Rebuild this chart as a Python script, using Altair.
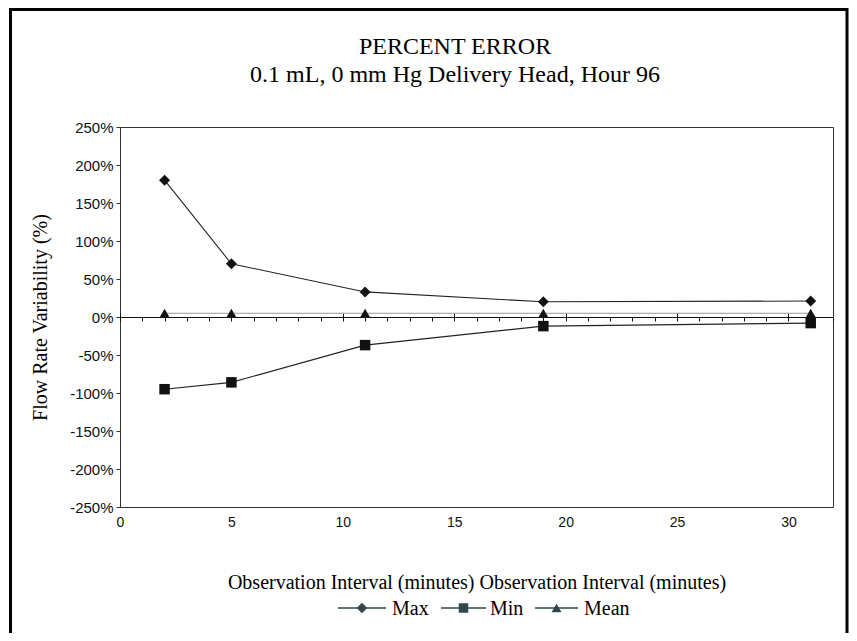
import altair as alt
import pandas as pd

# ---- data ----
series_names = ["Max", "Min", "Mean"]
x_minutes = [2, 5, 11, 19, 31]
max_vals = [180, 70, 33, 20, 21]
min_vals = [-95, -86, -37, -12, -8]
mean_vals = [5, 5, 5, 5, 5]
x_tick_labels = [0, 5, 10, 15, 20, 25, 30]
y_tick_labels = [-250, -200, -150, -100, -50, 0, 50, 100, 150, 200, 250]
minor_ticks = list(range(0, 33))
title_lines = ["PERCENT ERROR", "0.1 mL, 0 mm Hg Delivery Head, Hour 96"]
marker_shapes = ["diamond", "square", "triangle-up"]

rows = []
for name, vals in zip(series_names, [max_vals, min_vals, mean_vals]):
    for xv, yv in zip(x_minutes, vals):
        rows.append({"series": name, "x": xv, "value": yv})
df = pd.DataFrame(rows)

W, H = 713, 380
ZERO_OFF = H / 2

x_scale = alt.Scale(domain=[0, 32], nice=False, zero=False)
y_scale = alt.Scale(domain=[-250, 250], nice=False)

serif = "Liberation Serif"
sans = "Liberation Sans"

x_main_axis = alt.Axis(
    title="Observation Interval (minutes) Observation Interval (minutes)",
    values=x_tick_labels, ticks=False, domain=False, grid=False,
    labelFont=sans, labelFontSize=14, labelColor="#111", labelPadding=8,
    labelFlush=False,
    titleFont=serif, titleFontSize=20, titleFontWeight="normal", titleColor="#000",
    titleY=81, titleBaseline="alphabetic",
)
y_axis = alt.Axis(
    title="Flow Rate Variability (%)",
    values=y_tick_labels, labelExpr="datum.value + '%'",
    grid=False, domain=False, ticks=True, tickSize=4, tickColor="#333",
    labelFont=sans, labelFontSize=15, labelColor="#111", labelPadding=3,
    titleFont=serif, titleFontSize=20, titleFontWeight="normal", titleColor="#000",
    titleX=-80, titleY=H / 2, titleAngle=270, titleAlign="center", titleBaseline="middle",
)


def y_enc():
    return alt.Y("value:Q", scale=y_scale, axis=y_axis)


lines = alt.Chart(df).mark_line(clip=False).encode(
    x=alt.X("x:Q", scale=x_scale, axis=x_main_axis),
    y=y_enc(),
    color=alt.Color("series:N", scale=alt.Scale(domain=series_names, range=["#222222", "#222222", "#9a9a9a"]), legend=None),
    strokeWidth=alt.StrokeWidth("series:N", scale=alt.Scale(domain=series_names, range=[1.1, 1.1, 2.5]), legend=None),
)

points = alt.Chart(df).mark_point(filled=True, opacity=1).encode(
    x=alt.X("x:Q", scale=x_scale, axis=None),
    y=y_enc(),
    shape=alt.Shape("series:N", scale=alt.Scale(domain=series_names, range=marker_shapes), legend=None),
    size=alt.Size("series:N", scale=alt.Scale(domain=series_names, range=[120, 100, 110]), legend=None),
    color=alt.value("#111111"),
)

# zero line with minor ticks (below) and major ticks (above)
minor_axis = alt.Chart(df).mark_point(opacity=0).encode(
    x=alt.X("x:Q", scale=x_scale, axis=alt.Axis(orient="bottom", offset=-ZERO_OFF, values=minor_ticks,
                                                 labels=False, title=None, tickSize=4, tickColor="#111",
                                                 domain=True, domainColor="#111", domainWidth=1.2, grid=False)),
    y=y_enc(),
)
major_axis = alt.Chart(df).mark_point(opacity=0).encode(
    x=alt.X("x:Q", scale=x_scale, axis=alt.Axis(orient="top", offset=-ZERO_OFF, values=x_tick_labels,
                                                 labels=False, title=None, tickSize=4, tickColor="#111",
                                                 domain=False, grid=False)),
    y=y_enc(),
)

# ---- legend (line + marker + label per series), laid out below the axis title ----
LEG = "#2f474c"
names_df = pd.DataFrame({"series": series_names})
LEG_Y = 481
legend_slots = [(218, 266, 272), (321, 366, 370), (415, 458, 464)]  # line start, line end, label x
legend_sizes = [110, 90, 100]
legend_layers = []
for name, shp, (x0, x1, tx), sz in zip(series_names, marker_shapes, legend_slots, legend_sizes):
    src = alt.Chart(names_df).transform_filter(alt.datum.series == name)
    legend_layers.append(src.mark_rule(color=LEG, strokeWidth=1.3).encode(
        x=alt.value(x0), x2=alt.value(x1), y=alt.value(LEG_Y)))
    legend_layers.append(src.mark_point(shape=shp, filled=True, color=LEG, opacity=1, size=sz).encode(
        x=alt.value((x0 + x1) / 2), y=alt.value(LEG_Y)))
    legend_layers.append(src.mark_text(font=serif, fontSize=20, color="#000", align="left",
                                       baseline="middle").encode(
        text="series:N", x=alt.value(tx), y=alt.value(LEG_Y + 1)))

title_df = pd.DataFrame({"line": title_lines, "row": [0, 1]})
title_top = alt.Chart(title_df).transform_filter("datum.row == 0").mark_text(
    font=serif, fontSize=24, color="#000", align="center", baseline="alphabetic"
).encode(text="line:N", x=alt.value(335), y=alt.value(-73))
title_sub = alt.Chart(title_df).transform_filter("datum.row == 1").mark_text(
    font=serif, fontSize=24, color="#000", align="center", baseline="alphabetic"
).encode(text="line:N", x=alt.value(335), y=alt.value(-45))

frame = alt.Chart(pd.DataFrame({"a": [0]})).mark_rect(
    filled=False, stroke="#000", strokeWidth=3, clip=False
).encode(
    x=alt.value(-109.5), x2=alt.value(727), y=alt.value(-117.5), y2=alt.value(700)
)

chart = alt.layer(frame, title_top, title_sub, minor_axis, major_axis, lines, points,
                  *legend_layers).resolve_axis(
    x="independent"
).properties(
    width=W, height=H,
    autosize=alt.AutoSizeParams(type="none"),
    padding={"left": 112, "top": 119, "right": 16, "bottom": 126},
).configure_view(stroke="#333333", strokeWidth=1)

chart.save("out.html", embed_options={"renderer": "svg", "actions": False})
